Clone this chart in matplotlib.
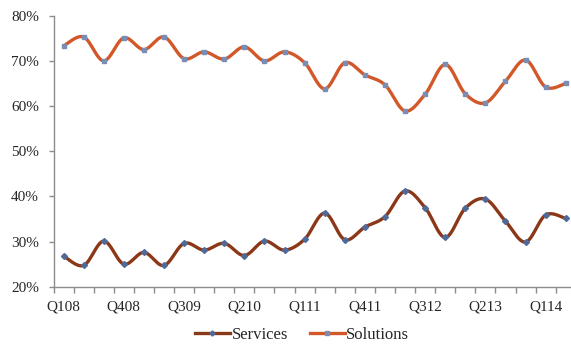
import numpy as np
import matplotlib
matplotlib.use("Agg")
from matplotlib import pyplot as plt
from matplotlib.lines import Line2D
from matplotlib.ticker import FuncFormatter

quarters = ['Q108', 'Q208', 'Q308', 'Q408', 'Q109', 'Q209', 'Q309', 'Q409',
            'Q110', 'Q210', 'Q310', 'Q410', 'Q111', 'Q211', 'Q311', 'Q411',
            'Q112', 'Q212', 'Q312', 'Q412', 'Q113', 'Q213', 'Q313', 'Q413',
            'Q114', 'Q214']
services = [26.8, 24.7, 30.1, 25.0, 27.6, 24.7, 29.6, 28.1, 29.6, 26.9, 30.1, 28.1, 30.5,
            36.3, 30.4, 33.2, 35.5, 41.2, 37.5, 30.9, 37.4, 39.4, 34.5, 29.9, 35.9, 35.1]
solutions = [73.3, 75.3, 70.0, 75.1, 72.5, 75.3, 70.5, 72.0, 70.4, 73.1, 70.0, 72.0, 69.6,
             63.8, 69.6, 66.9, 64.7, 58.9, 62.6, 69.2, 62.7, 60.7, 65.5, 70.2, 64.2, 65.0]

plt.rcParams['font.family'] = ['Liberation Serif', 'DejaVu Serif']


def smooth(y, n=24):
    # bezier smoothing between neighbouring points (spreadsheet style)
    y = np.asarray(y, dtype=float)
    x = np.arange(len(y), dtype=float)
    xs, ys = [], []
    for i in range(len(y) - 1):
        i0 = max(i - 1, 0)
        i3 = min(i + 2, len(y) - 1)
        p0 = np.array([x[i], y[i]])
        p3 = np.array([x[i + 1], y[i + 1]])
        p1 = p0 + (p3 - np.array([x[i0], y[i0]])) / 6.0
        p2 = p3 - (np.array([x[i3], y[i3]]) - p0) / 6.0
        t = np.linspace(0, 1, n)[:, None]
        pts = (1 - t) ** 3 * p0 + 3 * (1 - t) ** 2 * t * p1 + 3 * (1 - t) * t ** 2 * p2 + t ** 3 * p3
        xs.extend(pts[:, 0])
        ys.extend(pts[:, 1])
    return np.array(xs), np.array(ys)


c_serv = '#8b3818'
c_sol = '#d2582a'
mk_serv = '#4f6a99'
mk_sol = '#7a8db3'

fig = plt.figure(figsize=(5.71, 3.45), dpi=100)
ax = fig.add_axes([53.5 / 571, 58.3 / 345, 522.3 / 571, 271.0 / 345])

x = np.arange(len(quarters))
sx, sy = smooth(services)
ax.plot(sx, sy, color=c_serv, lw=2.4, solid_capstyle='round', zorder=2)
ax.plot(x, services, ls='none', marker='D', ms=3.0, color=mk_serv, zorder=3)
sx, sy = smooth(solutions)
ax.plot(sx, sy, color=c_sol, lw=2.4, solid_capstyle='round', zorder=2)
ax.plot(x, solutions, ls='none', marker='s', ms=3.5, color=mk_sol, zorder=3)

ax.set_xlim(-0.5, len(quarters) - 0.5)
ax.set_ylim(20, 80)
ax.set_yticks(np.arange(20, 81, 10))
ax.yaxis.set_major_formatter(FuncFormatter(lambda v, p: '%d%%' % v))

ax.set_xticks(x[::3])
ax.set_xticklabels(quarters[::3])
ax.set_xticks(np.arange(-0.5, len(quarters), 1), minor=True)

for s in ['top', 'right']:
    ax.spines[s].set_visible(False)
for s in ['left', 'bottom']:
    ax.spines[s].set_color('#8c8c8c')
    ax.spines[s].set_linewidth(1.0)
ax.tick_params(axis='y', which='major', length=3.5, width=1.0, color='#8c8c8c',
               labelsize=11, pad=7, labelcolor='#262626')
ax.tick_params(axis='x', which='major', length=0, labelsize=11, pad=10,
               labelcolor='#262626')
ax.tick_params(axis='x', which='minor', length=4, width=1.0, color='#8c8c8c')

handles = [Line2D([], [], color=c_serv, lw=2.4, marker='D', ms=2.6, mfc=mk_serv, mec=mk_serv),
           Line2D([], [], color=c_sol, lw=2.4, marker='s', ms=3.0, mfc=mk_sol, mec=mk_sol)]
fig.legend(handles, ['Services', 'Solutions'], loc='center', bbox_to_anchor=(302 / 571, 10 / 345),
           ncol=2, frameon=False, fontsize=12, handlelength=2.1, handletextpad=0.1,
           columnspacing=1.3, labelcolor='#262626')

fig.savefig('out.png', dpi=100)
